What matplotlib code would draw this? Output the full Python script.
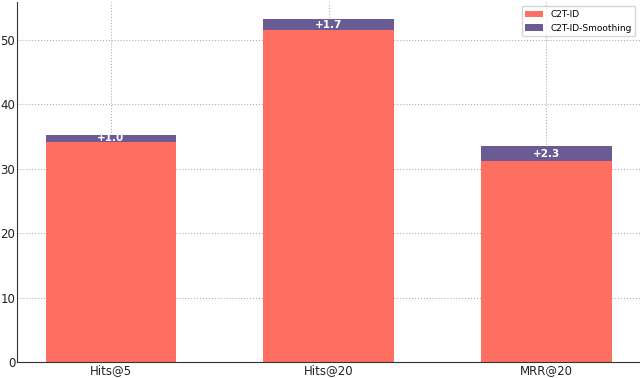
import matplotlib
matplotlib.use("Agg")
import matplotlib.pyplot as plt
import numpy as np

metrics = ["Hits@5", "Hits@20", "MRR@20"]
c2t_id = [34.2, 51.5, 31.2]
smoothing_gain = [1.0, 1.7, 2.3]

x = np.arange(len(metrics))

fig, ax = plt.subplots(figsize=(6.4, 3.78), dpi=100)
fig.subplots_adjust(left=0.027, right=1.0, top=0.995, bottom=0.042)

ax.bar(x, c2t_id, width=0.6, color="#FF6F61", label="C2T-ID", zorder=2)
ax.bar(x, smoothing_gain, width=0.6, bottom=c2t_id, color="#6B5B95",
       label="C2T-ID-Smoothing", zorder=2)

for i in range(len(metrics)):
    ax.text(x[i], c2t_id[i] + smoothing_gain[i] / 2, "+%.1f" % smoothing_gain[i],
            ha="center", va="center", color="white", fontsize=7.5,
            fontweight="bold", zorder=3)

ax.set_xticks(x)
ax.set_xticklabels(metrics)
ax.tick_params(axis="both", labelsize=8.5, length=0, pad=1.5, colors="#222222")
ax.grid(True, linestyle=":", color="#b0b0b0", linewidth=0.8, zorder=0)
ax.spines["top"].set_visible(False)
ax.spines["right"].set_visible(False)
ax.spines["left"].set_color("#333333")
ax.spines["bottom"].set_color("#333333")
ax.legend(loc="upper right", fontsize=6.5)

plt.savefig("out.png", dpi=100)
